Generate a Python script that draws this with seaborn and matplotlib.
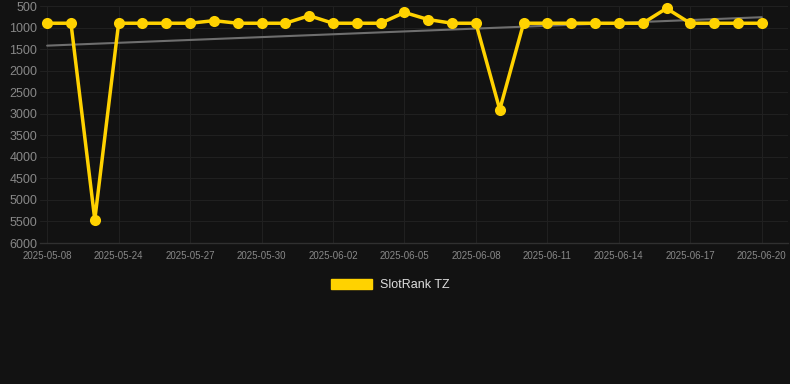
import matplotlib
matplotlib.use("Agg")
import matplotlib.pyplot as plt
import seaborn as sns
import pandas as pd
import numpy as np

dates = ["2025-05-08", "2025-05-21", "2025-05-23"] + [
    d.strftime("%Y-%m-%d") for d in pd.date_range("2025-05-24", "2025-06-20")
]
ranks = [900, 900, 5460, 900, 900, 900, 900, 840, 900, 900,
         900, 725, 900, 900, 900, 650, 815, 900, 900, 2905,
         900, 900, 900, 900, 900, 900, 555, 900, 900, 900, 900]
trend_start, trend_end = 1420, 760
series_name = "SlotRank TZ"
yticks = [500, 1000, 1500, 2000, 2500, 3000, 3500, 4000, 4500, 5000, 5500, 6000]

bg = "#121212"
sns.set_theme(style="dark")
plt.rcParams["font.family"] = ["Liberation Sans", "DejaVu Sans"]

df = pd.DataFrame({"idx": np.arange(len(dates)), "date": dates, "rank": ranks})
trend = pd.DataFrame({"idx": [0, len(dates) - 1], "rank": [trend_start, trend_end]})

fig = plt.figure(figsize=(7.9, 3.84), dpi=100, facecolor=bg)
ax = fig.add_axes([40 / 790, 1 - 243 / 384, 748 / 790, 237 / 384])
ax.set_facecolor(bg)

sns.lineplot(data=trend, x="idx", y="rank", ax=ax, color="#6e6e6e", linewidth=1.5, legend=False)
sns.lineplot(data=df, x="idx", y="rank", ax=ax, color="#FFD200", linewidth=2.5,
             marker="o", markersize=8, markeredgewidth=0, legend=False)
for ln in ax.lines[1:]:
    ln.set_solid_joinstyle("miter")
    ln.set_clip_on(False)

ax.set_xlim(-0.3, len(dates) - 1 + 1.1)
ax.set_ylim(6000, 500)
ax.set_yticks(yticks)
ax.set_yticklabels([str(v) for v in yticks])
tick_idx = list(range(0, len(dates), 3))
ax.set_xticks(tick_idx)
ax.set_xticklabels([dates[i] for i in tick_idx])
ax.tick_params(axis="y", colors="#888888", labelsize=9, length=0, pad=2)
ax.tick_params(axis="x", colors="#888888", labelsize=7, length=0, pad=6)
ax.grid(True, color="#202020", linewidth=0.8)
ax.set_xlabel("")
ax.set_ylabel("")
for s in ["top", "right", "left"]:
    ax.spines[s].set_visible(False)
ax.spines["bottom"].set_color("#303030")
ax.spines["bottom"].set_linewidth(1)

handles = [plt.Rectangle((0, 0), 1, 1, color="#FFD200")]
leg = fig.legend(handles, [series_name], loc="center", bbox_to_anchor=(390 / 790, 1 - 285 / 384),
                 frameon=False, handlelength=3.3, handleheight=0.9, fontsize=9,
                 labelcolor="#dddddd", handletextpad=0.6)

fig.savefig("out.png", dpi=100, facecolor=bg)
